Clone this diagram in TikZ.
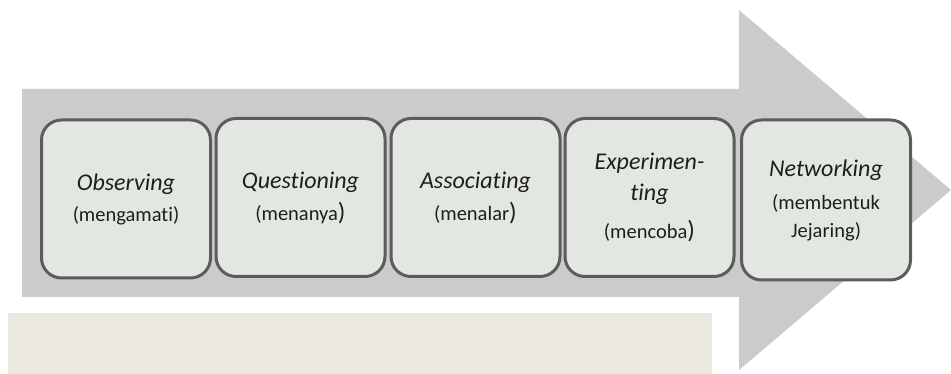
\documentclass[tikz,border=0pt]{standalone}
\usepackage{fontspec}
\setmainfont{Carlito}[Ligatures={NoCommon,NoContextual}]
\definecolor{arrowgray}{HTML}{CBCBCB}
\definecolor{panelbeige}{HTML}{ECEADF}
\definecolor{stepfill}{HTML}{E3E7E2}
\definecolor{stepline}{HTML}{5C5C5C}
\definecolor{steptext}{HTML}{1E1E1E}
\newcommand{\stitle}[1]{{\fontsize{24}{30}\selectfont\itshape #1}}
\newcommand{\ssub}[1]{{\fontsize{20.5}{30}\selectfont #1}}
\newcommand{\bigparen}{{\fontsize{25}{30}\selectfont )}}
\begin{document}
\begin{tikzpicture}[x=1pt,y=-1pt,
  stepbox/.style={draw=stepline, fill=stepfill, line width=3pt, rounded corners=20pt,
    minimum width=169pt, minimum height=158pt, inner sep=0pt, text=steptext,
    align=center, font=\fontsize{20}{30}\selectfont}]
  \useasboundingbox (0,0) rectangle (951,374);
  % large process arrow
  \fill[arrowgray] (22,89) -- (739,89) -- (739,10) -- (951,190) -- (739,370)
    -- (739,297) -- (22,297) -- cycle;
  % empty panel below
  \fill[panelbeige] (8,313) rectangle (712,374);
  % the five steps
  \node[stepbox] (observe) at (126,199)
    {\stitle{Observing}\\[1pt]\ssub{(mengamati)}};
  \node[stepbox] (question) at (300.5,197.5)
    {\stitle{Questioning}\\[2pt]\ssub{(menanya\bigparen}};
  \node[stepbox] (associate) at (475.5,197.5)
    {\stitle{Associating}\\[2pt]\ssub{(menalar\bigparen}};
  \node[stepbox] (experiment) at (649.5,197.5)
    {\stitle{Experimen-}\\[1pt]\stitle{ting}\\[8pt]\ssub{(mencoba\bigparen}};
  \node[stepbox, minimum height=160pt] (network) at (826,200)
    {\stitle{Networking}\\[3pt]\ssub{(membentuk}\\[-2pt]\ssub{Jejaring)}};
\end{tikzpicture}
\end{document}
